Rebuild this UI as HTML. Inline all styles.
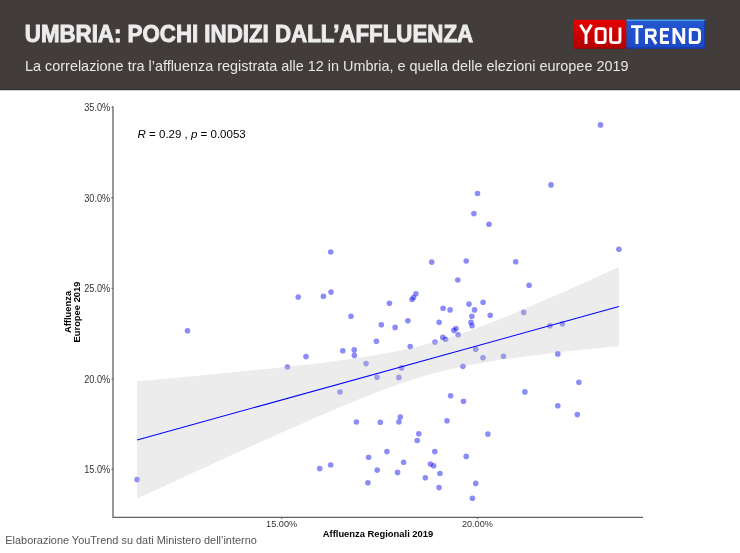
<!DOCTYPE html>
<html><head><meta charset="utf-8">
<style>
*{margin:0;padding:0;box-sizing:border-box}
html,body{width:740px;height:553px;overflow:hidden;background:#fff}
body{position:relative;font-family:"Liberation Sans",sans-serif}
svg{position:absolute;left:0;top:0;will-change:transform;font-family:"Liberation Sans",sans-serif}
.tk{font-size:10px;fill:#333}
.at{font-size:9.4px;font-weight:bold;fill:#000}
</style></head><body>
<svg width="740" height="553" viewBox="0 0 740 553">
<rect x="0" y="0" width="740" height="90" fill="#423d3a"/>
<rect x="0" y="89" width="740" height="1" fill="#34302d"/>
<rect x="0" y="90" width="740" height="1" fill="#d0d0d0"/>
<text x="24.8" y="42.2" font-size="23" font-weight="bold" fill="#ececec" stroke="#ececec" stroke-width="0.9" textLength="448.3" lengthAdjust="spacingAndGlyphs">UMBRIA: POCHI INDIZI DALL’AFFLUENZA</text>
<text x="25" y="70.7" font-size="13.9" fill="#e8e8e8" textLength="603.5" lengthAdjust="spacingAndGlyphs">La correlazione tra l’affluenza registrata alle 12 in Umbria, e quella delle elezioni europee 2019</text>
<defs>
<linearGradient id="gr" x1="0" y1="0" x2="0" y2="1"><stop offset="0" stop-color="#e40000"/><stop offset="1" stop-color="#b40000"/></linearGradient>
<linearGradient id="gb" x1="0" y1="0" x2="0" y2="1"><stop offset="0" stop-color="#2257cf"/><stop offset="1" stop-color="#1c48c4"/></linearGradient>
</defs>
<rect x="574" y="19.9" width="52.5" height="28.7" fill="url(#gr)"/>
<rect x="574" y="47.6" width="52.5" height="1" fill="#9a0000"/>
<rect x="626.5" y="19.6" width="79" height="29" fill="url(#gb)"/>
<rect x="626.5" y="19.6" width="79" height="1.5" fill="#45a0e6"/>
<rect x="704.4" y="19.6" width="1.1" height="29" fill="#1530a0"/>
<rect x="626.5" y="47.6" width="79" height="1" fill="#1530a0"/>
<g fill="none" stroke="#fff" stroke-width="2.9" stroke-linejoin="round">
<path d="M580.4,24.8 L586,33.8 L591.5,24.8 M586,33.8 V43.9"/>
<rect x="596.05" y="28.65" width="9.1" height="13.9" rx="2.2"/>
<path d="M610.65,27.4 V40.3 Q610.65,42.6 612.9,42.6 H617.7 Q619.95,42.6 619.95,40.3 V27.4"/>
<path d="M631,26.6 H642.9 M636.95,26.6 V43.9"/>
<path d="M646.5,43.9 V29.9 H652.4 Q655.2,29.9 655.2,32.7 V33.4 Q655.2,36.2 652.4,36.2 H646.5 M651.3,36.2 L656.2,43.9"/>
<path d="M669,29.55 H661.4 V42.45 H669 M661.4,35.9 H668"/>
<path d="M672.5,43.9 V28.1 H675.8 L682.2,38.5 V28.1 H685.2 V43.9 H681.9 L675.5,33.5 V43.9 Z" fill="#fff" stroke="none"/>
<path d="M690.2,29.55 H696 Q699.55,29.55 699.55,33.1 V38.9 Q699.55,42.45 696,42.45 H690.2 Z"/>
</g>
<g fill="#0000f0" fill-opacity="0.45">
<circle cx="137.1" cy="479.6" r="2.8"/>
<circle cx="187.5" cy="330.7" r="2.8"/>
<circle cx="287.4" cy="367.0" r="2.8"/>
<circle cx="306.0" cy="356.6" r="2.8"/>
<circle cx="298.2" cy="297.1" r="2.8"/>
<circle cx="323.4" cy="296.2" r="2.8"/>
<circle cx="331.0" cy="292.1" r="2.8"/>
<circle cx="330.7" cy="252.0" r="2.8"/>
<circle cx="319.7" cy="468.6" r="2.8"/>
<circle cx="330.7" cy="465.0" r="2.8"/>
<circle cx="351.0" cy="316.2" r="2.8"/>
<circle cx="342.8" cy="350.8" r="2.8"/>
<circle cx="354.2" cy="349.9" r="2.8"/>
<circle cx="354.4" cy="355.4" r="2.8"/>
<circle cx="366.0" cy="363.6" r="2.8"/>
<circle cx="376.4" cy="341.2" r="2.8"/>
<circle cx="377.0" cy="377.2" r="2.8"/>
<circle cx="381.3" cy="324.7" r="2.8"/>
<circle cx="340.0" cy="392.0" r="2.8"/>
<circle cx="356.4" cy="422.0" r="2.8"/>
<circle cx="380.3" cy="422.3" r="2.8"/>
<circle cx="368.6" cy="457.3" r="2.8"/>
<circle cx="377.2" cy="470.1" r="2.8"/>
<circle cx="367.9" cy="482.7" r="2.8"/>
<circle cx="389.4" cy="303.3" r="2.8"/>
<circle cx="395.1" cy="327.4" r="2.8"/>
<circle cx="407.9" cy="320.7" r="2.8"/>
<circle cx="415.9" cy="293.7" r="2.8"/>
<circle cx="413.5" cy="297.5" r="2.8"/>
<circle cx="412.0" cy="299.5" r="2.8"/>
<circle cx="431.7" cy="262.1" r="2.8"/>
<circle cx="466.2" cy="261.0" r="2.8"/>
<circle cx="457.8" cy="280.0" r="2.8"/>
<circle cx="473.9" cy="213.6" r="2.8"/>
<circle cx="489.0" cy="224.3" r="2.8"/>
<circle cx="477.5" cy="193.5" r="2.8"/>
<circle cx="515.7" cy="261.7" r="2.8"/>
<circle cx="443.1" cy="308.2" r="2.8"/>
<circle cx="450.1" cy="309.9" r="2.8"/>
<circle cx="439.1" cy="322.2" r="2.8"/>
<circle cx="435.0" cy="342.1" r="2.8"/>
<circle cx="442.8" cy="337.4" r="2.8"/>
<circle cx="445.6" cy="339.2" r="2.8"/>
<circle cx="456.0" cy="328.5" r="2.8"/>
<circle cx="453.9" cy="330.4" r="2.8"/>
<circle cx="458.1" cy="334.8" r="2.8"/>
<circle cx="469.0" cy="304.1" r="2.8"/>
<circle cx="483.1" cy="302.3" r="2.8"/>
<circle cx="474.5" cy="309.9" r="2.8"/>
<circle cx="471.8" cy="316.3" r="2.8"/>
<circle cx="490.2" cy="315.3" r="2.8"/>
<circle cx="471.0" cy="322.2" r="2.8"/>
<circle cx="472.0" cy="325.8" r="2.8"/>
<circle cx="410.2" cy="346.6" r="2.8"/>
<circle cx="401.6" cy="367.9" r="2.8"/>
<circle cx="398.9" cy="377.4" r="2.8"/>
<circle cx="475.7" cy="349.2" r="2.8"/>
<circle cx="483.0" cy="357.8" r="2.8"/>
<circle cx="503.5" cy="356.3" r="2.8"/>
<circle cx="462.9" cy="366.3" r="2.8"/>
<circle cx="523.7" cy="312.4" r="2.8"/>
<circle cx="549.9" cy="325.8" r="2.8"/>
<circle cx="562.4" cy="323.8" r="2.8"/>
<circle cx="557.8" cy="353.9" r="2.8"/>
<circle cx="578.9" cy="382.2" r="2.8"/>
<circle cx="524.9" cy="391.9" r="2.8"/>
<circle cx="557.8" cy="405.7" r="2.8"/>
<circle cx="577.3" cy="414.6" r="2.8"/>
<circle cx="529.1" cy="285.3" r="2.8"/>
<circle cx="618.9" cy="249.3" r="2.8"/>
<circle cx="600.5" cy="124.9" r="2.8"/>
<circle cx="551.0" cy="184.9" r="2.8"/>
<circle cx="463.5" cy="401.3" r="2.8"/>
<circle cx="400.3" cy="417.1" r="2.8"/>
<circle cx="398.9" cy="422.0" r="2.8"/>
<circle cx="447.0" cy="420.8" r="2.8"/>
<circle cx="487.9" cy="434.1" r="2.8"/>
<circle cx="418.8" cy="433.7" r="2.8"/>
<circle cx="417.2" cy="440.5" r="2.8"/>
<circle cx="386.9" cy="451.6" r="2.8"/>
<circle cx="434.8" cy="451.6" r="2.8"/>
<circle cx="466.2" cy="456.4" r="2.8"/>
<circle cx="403.6" cy="462.2" r="2.8"/>
<circle cx="430.4" cy="464.1" r="2.8"/>
<circle cx="433.7" cy="465.7" r="2.8"/>
<circle cx="397.6" cy="472.4" r="2.8"/>
<circle cx="439.9" cy="473.5" r="2.8"/>
<circle cx="425.3" cy="477.7" r="2.8"/>
<circle cx="475.7" cy="483.4" r="2.8"/>
<circle cx="439.0" cy="487.6" r="2.8"/>
<circle cx="472.4" cy="498.2" r="2.8"/>
<circle cx="450.6" cy="395.8" r="2.8"/>
</g>
<path d="M137.1,381.3 L143.2,380.8 L149.3,380.2 L155.4,379.7 L161.5,379.1 L167.6,378.5 L173.7,378.0 L179.8,377.4 L185.9,376.8 L192.0,376.2 L198.1,375.7 L204.2,375.1 L210.3,374.5 L216.4,373.9 L222.5,373.3 L228.6,372.7 L234.7,372.1 L240.8,371.5 L246.9,370.9 L253.0,370.3 L259.1,369.7 L265.2,369.0 L271.3,368.4 L277.4,367.8 L283.5,367.1 L289.6,366.5 L295.7,365.8 L301.8,365.1 L307.9,364.4 L314.0,363.7 L320.1,362.9 L326.2,362.2 L332.3,361.4 L338.4,360.6 L344.5,359.8 L350.6,359.0 L356.7,358.1 L362.8,357.2 L368.9,356.2 L375.0,355.2 L381.0,354.2 L387.1,353.1 L393.2,351.9 L399.3,350.7 L405.4,349.4 L411.5,348.0 L417.6,346.5 L423.7,345.0 L429.8,343.3 L435.9,341.6 L442.0,339.8 L448.1,337.9 L454.2,335.9 L460.3,333.9 L466.4,331.7 L472.5,329.5 L478.6,327.3 L484.7,325.0 L490.8,322.6 L496.9,320.2 L503.0,317.7 L509.1,315.2 L515.2,312.7 L521.3,310.1 L527.4,307.6 L533.5,305.0 L539.6,302.3 L545.7,299.7 L551.8,297.0 L557.9,294.3 L564.0,291.7 L570.1,289.0 L576.2,286.2 L582.3,283.5 L588.4,280.8 L594.5,278.1 L600.6,275.3 L606.7,272.5 L612.8,269.8 L618.9,267.0 L618.9,346.0 L612.8,346.7 L606.7,347.3 L600.6,347.9 L594.5,348.5 L588.4,349.2 L582.3,349.8 L576.2,350.5 L570.1,351.1 L564.0,351.8 L557.9,352.5 L551.8,353.2 L545.7,353.9 L539.6,354.7 L533.5,355.4 L527.4,356.2 L521.3,357.0 L515.2,357.8 L509.1,358.7 L503.0,359.6 L496.9,360.5 L490.8,361.4 L484.7,362.4 L478.6,363.5 L472.5,364.6 L466.4,365.8 L460.3,367.0 L454.2,368.4 L448.1,369.8 L442.0,371.2 L435.9,372.8 L429.8,374.5 L423.7,376.2 L417.6,378.0 L411.5,380.0 L405.4,381.9 L399.3,384.0 L393.2,386.2 L387.1,388.4 L381.0,390.7 L375.0,393.0 L368.9,395.4 L362.8,397.8 L356.7,400.3 L350.6,402.8 L344.5,405.3 L338.4,407.8 L332.3,410.4 L326.2,413.0 L320.1,415.7 L314.0,418.3 L307.9,421.0 L301.8,423.7 L295.7,426.4 L289.6,429.1 L283.5,431.8 L277.4,434.5 L271.3,437.2 L265.2,440.0 L259.1,442.7 L253.0,445.5 L246.9,448.2 L240.8,451.0 L234.7,453.8 L228.6,456.6 L222.5,459.3 L216.4,462.1 L210.3,464.9 L204.2,467.7 L198.1,470.5 L192.0,473.3 L185.9,476.1 L179.8,478.9 L173.7,481.7 L167.6,484.5 L161.5,487.4 L155.4,490.2 L149.3,493.0 L143.2,495.8 L137.1,498.6 Z" fill="#c0c0c0" fill-opacity="0.3"/>
<line x1="137.10" y1="439.98" x2="618.90" y2="306.54" stroke="#0000ff" stroke-width="1.1"/>
<g stroke="#626262" stroke-width="1.3" fill="none">
<path d="M113,106.3 V517.3 H643"/>
<path d="M111.5,107.2 h1.5 M111.5,197.75 h1.5 M111.5,288.3 h1.5 M111.5,378.85 h1.5 M111.5,469.4 h1.5"/>
<path d="M281.6,517.3 v1.5 M477.4,517.3 v1.5"/>
</g>
<g class="tk" text-anchor="end">
<text x="110.2" y="111.2" textLength="26" lengthAdjust="spacingAndGlyphs">35.0%</text>
<text x="110.2" y="201.8" textLength="26" lengthAdjust="spacingAndGlyphs">30.0%</text>
<text x="110.2" y="292.4" textLength="26" lengthAdjust="spacingAndGlyphs">25.0%</text>
<text x="110.2" y="382.9" textLength="26" lengthAdjust="spacingAndGlyphs">20.0%</text>
<text x="110.2" y="473.4" textLength="26" lengthAdjust="spacingAndGlyphs">15.0%</text>
</g>
<g class="tk" text-anchor="middle">
<text x="281.6" y="527.3" font-size="9.5" textLength="31" lengthAdjust="spacingAndGlyphs">15.00%</text>
<text x="477.4" y="527.3" font-size="9.5" textLength="31" lengthAdjust="spacingAndGlyphs">20.00%</text>
</g>
<text class="at" x="378" y="537.3" text-anchor="middle">Affluenza Regionali 2019</text>
<g class="at" text-anchor="middle" transform="translate(70.6,312) rotate(-90)">
<text x="0" y="0">Affluenza</text>
<text x="0" y="9.6">Europee 2019</text>
</g>
<text x="137.6" y="138" font-size="11.5" fill="#000"><tspan font-style="italic">R</tspan> = 0.29 , <tspan font-style="italic">p</tspan> = 0.0053</text>
<text x="5.3" y="543.7" font-size="10" fill="#555" textLength="251.5" lengthAdjust="spacingAndGlyphs">Elaborazione YouTrend su dati Ministero dell’interno</text>
</svg>
</body></html>
